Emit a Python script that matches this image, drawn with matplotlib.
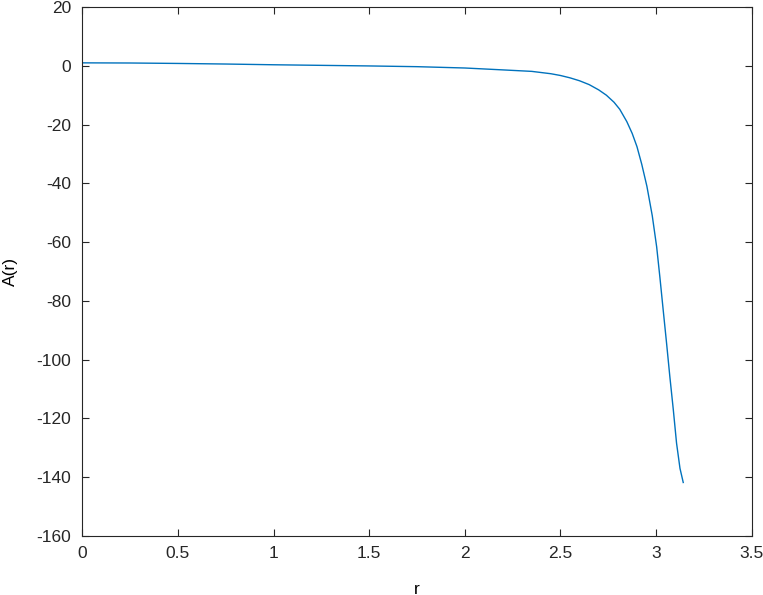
import matplotlib
matplotlib.use("Agg")
import matplotlib.pyplot as plt

# values
r = [0.0, 0.25, 0.5, 0.75, 1.0, 1.25, 1.5, 1.75, 2.0, 2.2, 2.35, 2.45, 2.5,
     2.55, 2.6, 2.65, 2.7, 2.74, 2.78, 2.81, 2.847, 2.875, 2.90, 2.925, 2.952,
     2.98, 3.003, 3.02, 3.037, 3.055, 3.072, 3.09, 3.107, 3.125, 3.142]
A = [1.0, 0.95, 0.8, 0.6, 0.35, 0.15, -0.05, -0.3, -0.75, -1.4, -1.9, -2.7, -3.3,
     -4.1, -5.1, -6.4, -8.2, -10.0, -12.4, -14.8, -19.0, -23.0, -27.5, -33.5, -41.0,
     -51.0, -61.6, -72.0, -83.0, -94.5, -105.8, -117.0, -128.4, -137.0, -141.8]

xticks = [0, 0.5, 1, 1.5, 2, 2.5, 3, 3.5]
yticks = [20, 0, -20, -40, -60, -80, -100, -120, -140, -160]

plt.rcParams["font.family"] = ["Liberation Sans", "DejaVu Sans"]
plt.rcParams["axes.unicode_minus"] = False

fig = plt.figure(figsize=(7.63, 5.95), dpi=100)
ax = fig.add_axes([0.1079, 0.0992, 0.8773, 0.889])

ax.plot(r, A, color="#0072BD", lw=1.0)

ax.set_xlim(0, 3.5)
ax.set_ylim(-160, 20)
ax.set_xticks(xticks)
ax.set_xticklabels([f"{t:g}" for t in xticks])
ax.set_yticks(yticks)
ax.set_xlabel("r", fontsize=12.5, labelpad=15)
ax.set_ylabel("A(r)", fontsize=12.5, labelpad=13)

for s in ax.spines.values():
    s.set_color("#262626")
    s.set_linewidth(0.8)
ax.tick_params(direction="in", length=5, width=0.8, colors="#262626",
               labelsize=12.5, top=True, right=True)
ax.tick_params(axis="x", pad=7)
ax.tick_params(axis="y", pad=8)

fig.savefig("out.png", dpi=100)
